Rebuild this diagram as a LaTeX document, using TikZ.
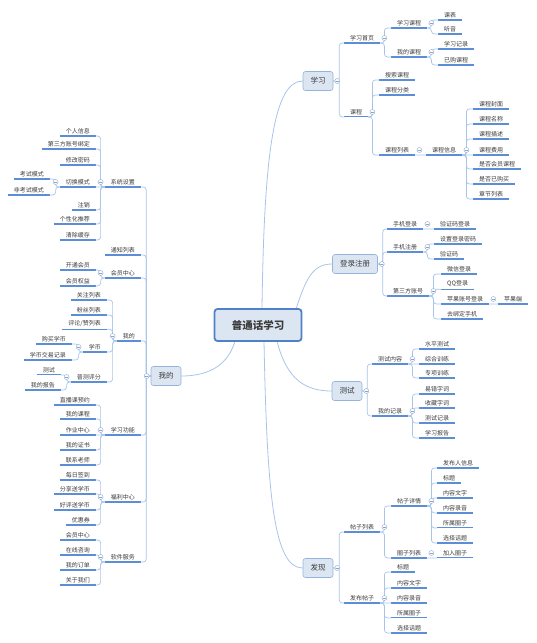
\documentclass[tikz,border=0pt]{standalone}
\usepackage{fontspec}
\setmainfont{Noto Sans CJK SC}
\definecolor{ulblue}{HTML}{5B8ED6}
\definecolor{lnblue}{HTML}{A9C4EA}
\definecolor{boxfill}{HTML}{DCE6F2}
\definecolor{boxdraw}{HTML}{95B3DB}
\definecolor{rootdraw}{HTML}{4F81C7}
\definecolor{txt}{HTML}{3A3A3A}
\definecolor{foldc}{HTML}{8AA6CC}

\begin{document}
\begin{tikzpicture}[x=1pt, y=-1pt, line cap=round,
	uline/.style={draw=ulblue, line width=1.1pt, line cap=butt},
	leaf/.style={font=\fontsize{6}{7}\selectfont, text=txt, inner xsep=6pt, inner ysep=2pt, anchor=west,
		append after command={(\tikzlastnode.south west) edge[uline] (\tikzlastnode.south east)}},
	lleaf/.style={leaf, anchor=east},
	topic/.style={draw=boxdraw, fill=boxfill, rounded corners=2.5pt, minimum width=30pt, minimum height=19pt,
		inner xsep=7.5pt, font=\fontsize{7.5}{8}\selectfont, text=txt, line width=0.6pt},
	conn/.style={draw=lnblue, line width=0.7pt, rounded corners=3pt},
	branch/.style={draw=lnblue, line width=0.8pt},
	fold/.style={circle, draw=foldc, fill=white, line width=0.4pt, inner sep=0pt, minimum size=5pt,
		path picture={\draw[foldc, line width=0.4pt] ([xshift=-1.4pt]path picture bounding box.center) -- ([xshift=1.4pt]path picture bounding box.center);}}
]
	\useasboundingbox (0,0) rectangle (537,643);

	% ---- nodi di primo livello ----
	\node[topic] (xx) at (318,81)  {学习};
	\node[topic] (dl) at (355,264) {登录注册};
	\node[topic] (cs) at (347,391) {测试};
	\node[topic] (fx) at (318,568) {发现};
	\node[topic] (wd) at (166,376) {我的};

	% ---- rami dal centro ----
	\coordinate (r1) at (262,309);
	\coordinate (r2) at (296,309);
	\coordinate (r3) at (277,341);
	\coordinate (r4) at (264,341);
	\coordinate (r5) at (235,341);
	\draw[branch] (r1) .. controls +(2,-160) and +(-28,0) .. (xx.west);
	\draw[branch] (r2) .. controls +(10,-30) and +(-20,0) .. (dl.west);
	\draw[branch] (r3) .. controls +(10,40) and +(-25,0) .. (cs.west);
	\draw[branch] (r4) .. controls +(3,160) and +(-28,0) .. (fx.west);
	\draw[branch] (r5) .. controls +(-8,28) and +(22,0) .. (wd.east);

	\node[draw=rootdraw, fill=boxfill, line width=1.8pt, rounded corners=3pt, minimum width=87pt, minimum height=32pt,
		font=\fontsize{10.5}{12}\selectfont\bfseries, text=txt] (root) at (258,325) {普通话学习};

	% ---- 学习 ----
	\node[leaf] (xx1) at (344,38) {学习首页};
	\node[leaf] (xx11) at (391,23) {学习课程};
	\node[leaf] (xx111) at (438,15) {课表};
	\node[leaf] (xx112) at (438,29) {听音};
	\node[leaf] (xx12) at (391,52) {我的课程};
	\node[leaf] (xx121) at (438,44) {学习记录};
	\node[leaf] (xx122) at (438,60) {已购课程};
	\node[leaf] (xx2) at (344,112) {课程};
	\node[leaf] (xx21) at (379,75) {搜索课程};
	\node[leaf] (xx22) at (379,90) {课程分类};
	\node[leaf] (xx23) at (379,150) {课程列表};
	\node[leaf] (kc) at (426,150) {课程信息};
	\foreach \n/\t/\y in {1/课程封面/104, 2/课程名称/119, 3/课程描述/134, 4/课程费用/150,
			5/是否会员课程/164, 6/是否已购买/179, 7/章节列表/194}
		\node[leaf] (kc\n) at (473,\y) {\t};

	\foreach \c in {xx1,xx2} \draw[conn] (xx.east) -- ++(6,0) |- (\c.south west);
	\foreach \c in {xx11,xx12} \draw[conn] (xx1.south east) -- ++(4,0) |- (\c.south west);
	\foreach \c in {xx111,xx112} \draw[conn] (xx11.south east) -- ++(4,0) |- (\c.south west);
	\foreach \c in {xx121,xx122} \draw[conn] (xx12.south east) -- ++(4,0) |- (\c.south west);
	\foreach \c in {xx21,xx22,xx23} \draw[conn] (xx2.south east) -- ++(4,0) |- (\c.south west);
	\draw[conn] (xx23.south east) -- (kc.south west);
	\foreach \c in {kc1,kc2,kc3,kc5,kc6,kc7} \draw[conn] (kc.south east) -- ++(4,0) |- (\c.south west);
	\draw[conn] (kc.south east) -- (kc4.south west);

	% ---- 登录注册 ----
	\node[leaf] (dl1) at (387,224) {手机登录};
	\node[leaf] (dl11) at (434,224) {验证码登录};
	\node[leaf] (dl2) at (387,247) {手机注册};
	\node[leaf] (dl21) at (434,239) {设置登录密码};
	\node[leaf] (dl22) at (434,254) {验证码};
	\node[leaf] (dl3) at (387,291) {第三方账号};
	\foreach \n/\t/\y in {1/微信登录/269, 2/QQ登录/284, 3/苹果账号登录/299, 4/去绑定手机/314}
		\node[leaf] (dl3\n) at (441,\y) {\t};
	\node[leaf] (dl331) at (498,299) {苹果端};

	\foreach \c in {dl1,dl2,dl3} \draw[conn] (dl.east) -- ++(5,0) |- (\c.south west);
	\draw[conn] (dl1.south east) -- (dl11.south west);
	\foreach \c in {dl21,dl22} \draw[conn] (dl2.south east) -- ++(4,0) |- (\c.south west);
	\foreach \c in {dl31,dl32,dl33,dl34} \draw[conn] (dl3.south east) -- ++(4,0) |- (\c.south west);
	\draw[conn] (dl33.south east) -- (dl331.south west);

	% ---- 测试 ----
	\node[leaf] (cs1) at (372,359) {测试内容};
	\foreach \n/\t/\y in {1/水平测试/344, 2/综合训练/359, 3/专项训练/373}
		\node[leaf] (cs1\n) at (419,\y) {\t};
	\node[leaf] (cs2) at (372,411) {我的记录};
	\foreach \n/\t/\y in {1/易错字词/389, 2/收藏字词/403, 3/测试记录/418, 4/学习报告/433}
		\node[leaf] (cs2\n) at (419,\y) {\t};

	\foreach \c in {cs1,cs2} \draw[conn] (cs.east) -- ++(5,0) |- (\c.south west);
	\foreach \c in {cs11,cs13} \draw[conn] (cs1.south east) -- ++(4,0) |- (\c.south west);
	\draw[conn] (cs1.south east) -- (cs12.south west);
	\foreach \c in {cs21,cs22,cs23,cs24} \draw[conn] (cs2.south east) -- ++(4,0) |- (\c.south west);

	% ---- 发现 ----
	\node[leaf] (fx1) at (344,527) {帖子列表};
	\node[leaf] (fx11) at (391,501) {帖子详情};
	\foreach \n/\t/\y in {1/发布人信息/463, 2/标题/478, 3/内容文字/493, 4/内容录音/508, 5/所属圈子/523, 6/选择话题/538}
		\node[leaf] (fx11\n) at (437,\y) {\t};
	\node[leaf] (fx12) at (391,553) {圈子列表};
	\node[leaf] (fx121) at (437,553) {加入圈子};
	\node[leaf] (fx2) at (344,598) {发布帖子};
	\foreach \n/\t/\y in {1/标题/567, 2/内容文字/583, 3/内容录音/598, 4/所属圈子/613, 5/选择话题/628}
		\node[leaf] (fx2\n) at (391,\y) {\t};

	\foreach \c in {fx1,fx2} \draw[conn] (fx.east) -- ++(6,0) |- (\c.south west);
	\foreach \c in {fx11,fx12} \draw[conn] (fx1.south east) -- ++(4,0) |- (\c.south west);
	\foreach \c in {fx111,fx112,fx113,fx114,fx115,fx116} \draw[conn] (fx11.south east) -- ++(4,0) |- (\c.south west);
	\draw[conn] (fx12.south east) -- (fx121.south west);
	\foreach \c in {fx21,fx22,fx24,fx25} \draw[conn] (fx2.south east) -- ++(4,0) |- (\c.south west);
	\draw[conn] (fx2.south east) -- (fx23.south west);

	% ---- 我的 (lato sinistro) ----
	\node[lleaf] (wd1) at (141,182) {系统设置};
	\foreach \n/\t/\y in {1/个人信息/131, 2/第三方账号绑定/144, 3/修改密码/160, 4/切换模式/182,
			5/注销/205, 6/个性化推荐/219, 7/清除缓存/235}
		\node[lleaf] (wd1\n) at (96,\y) {\t};
	\node[lleaf] (wd141) at (50,174) {考试模式};
	\node[lleaf] (wd142) at (50,190) {非考试模式};
	\node[lleaf] (wd2) at (141,250) {通知列表};
	\node[lleaf] (wd3) at (141,273) {会员中心};
	\node[lleaf] (wd31) at (96,265) {开通会员};
	\node[lleaf] (wd32) at (96,281) {会员权益};
	\node[lleaf] (wd4) at (141,336) {我的};
	\node[lleaf] (wd41) at (107,295) {关注列表};
	\node[lleaf] (wd42) at (107,310) {粉丝列表};
	\node[lleaf] (wd43) at (107,324) {评论/赞列表};
	\node[lleaf] (wd44) at (107,347) {学币};
	\node[lleaf] (wd441) at (72,339) {购买学币};
	\node[lleaf] (wd442) at (72,355) {学币交易记录};
	\node[lleaf] (wd45) at (107,377) {普测评分};
	\node[lleaf] (wd451) at (61,370) {测试};
	\node[lleaf] (wd452) at (61,385) {我的报告};
	\node[lleaf] (wd5) at (141,430) {学习功能};
	\foreach \n/\t/\y in {1/直播课预约/400, 2/我的课程/414, 3/作业中心/430, 4/我的证书/445, 5/联系老师/460}
		\node[lleaf] (wd5\n) at (96,\y) {\t};
	\node[lleaf] (wd6) at (141,497) {福利中心};
	\foreach \n/\t/\y in {1/每日签到/475, 2/分享送学币/489, 3/好评送学币/505, 4/优惠券/520}
		\node[lleaf] (wd6\n) at (96,\y) {\t};
	\node[lleaf] (wd7) at (141,557) {软件服务};
	\foreach \n/\t/\y in {1/会员中心/535, 2/在线咨询/550, 3/我的订单/565, 4/关于我们/580}
		\node[lleaf] (wd7\n) at (96,\y) {\t};

	\foreach \c in {wd1,wd2,wd3,wd4,wd5,wd6,wd7} \draw[conn] (wd.west) -- ++(-4.5,0) |- (\c.south east);
	\foreach \c in {wd11,wd12,wd13,wd15,wd16,wd17} \draw[conn] (wd1.south west) -- ++(-4,0) |- (\c.south east);
	\draw[conn] (wd1.south west) -- (wd14.south east);
	\foreach \c in {wd141,wd142} \draw[conn] (wd14.south west) -- ++(-4,0) |- (\c.south east);
	\foreach \c in {wd31,wd32} \draw[conn] (wd3.south west) -- ++(-4,0) |- (\c.south east);
	\foreach \c in {wd41,wd42,wd43,wd44,wd45} \draw[conn] (wd4.south west) -- ++(-4,0) |- (\c.south east);
	\foreach \c in {wd441,wd442} \draw[conn] (wd44.south west) -- ++(-4,0) |- (\c.south east);
	\foreach \c in {wd451,wd452} \draw[conn] (wd45.south west) -- ++(-4,0) |- (\c.south east);
	\foreach \c in {wd51,wd52,wd54,wd55} \draw[conn] (wd5.south west) -- ++(-4,0) |- (\c.south east);
	\draw[conn] (wd5.south west) -- (wd53.south east);
	\foreach \c in {wd61,wd62,wd63,wd64} \draw[conn] (wd6.south west) -- ++(-4,0) |- (\c.south east);
	\foreach \c in {wd71,wd72,wd73,wd74} \draw[conn] (wd7.south west) -- ++(-4,0) |- (\c.south east);

	% ---- cerchietti di chiusura ----
	\foreach \p in {xx,xx1,xx11,xx12,xx2,xx23,kc,dl,dl1,dl2,dl3,dl33,cs,cs1,cs2,fx,fx1,fx11,fx12,fx2}
		\node[fold] (\p-f) at ([xshift=4pt]\p.east) {};
	\foreach \p in {wd,wd1,wd14,wd3,wd4,wd44,wd45,wd5,wd6,wd7}
		\node[fold] (\p-f) at ([xshift=-4pt]\p.west) {};

\end{tikzpicture}
\end{document}
